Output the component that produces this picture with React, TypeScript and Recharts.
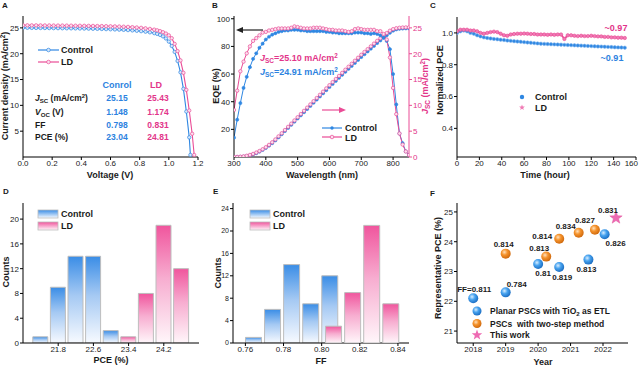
import React from 'react';
import { LineChart, Line, XAxis, YAxis, BarChart, Bar, Cell, ScatterChart, Scatter } from 'recharts';

const FONT = '"Liberation Sans", Arial, Helvetica, sans-serif';
const BLUE = '#2f87e2';
const PINK = '#ea4c96';
const TBLUE = '#2c82e0';
const TPINK = '#e2358a';
const INK = '#1a1a1a';

// ---------- Panel A: J-V ----------
const jvControlV = [0, 0.03, 0.06, 0.09, 0.12, 0.15, 0.18, 0.21, 0.24, 0.27, 0.3, 0.33, 0.36, 0.39, 0.42, 0.45, 0.48, 0.51, 0.54, 0.57, 0.6, 0.63, 0.66, 0.69, 0.72, 0.75, 0.78, 0.81, 0.84, 0.87, 0.9, 0.92, 0.94, 0.96, 0.98, 1.0, 1.02, 1.04, 1.06, 1.08, 1.1, 1.12, 1.14, 1.148];
const jvControlJ = [25.02, 25.01, 25.0, 24.99, 24.98, 24.97, 24.96, 24.95, 24.94, 24.93, 24.92, 24.91, 24.9, 24.88, 24.87, 24.85, 24.83, 24.81, 24.79, 24.76, 24.73, 24.7, 24.66, 24.62, 24.57, 24.51, 24.44, 24.36, 24.26, 24.14, 23.98, 23.84, 23.64, 23.36, 22.95, 22.35, 21.5, 20.35, 18.6, 16.4, 13.2, 8.8, 3.8, 0.4];
const jvLdV = [0, 0.03, 0.06, 0.09, 0.12, 0.15, 0.18, 0.21, 0.24, 0.27, 0.3, 0.33, 0.36, 0.39, 0.42, 0.45, 0.48, 0.51, 0.54, 0.57, 0.6, 0.63, 0.66, 0.69, 0.72, 0.75, 0.78, 0.81, 0.84, 0.87, 0.9, 0.92, 0.94, 0.96, 0.98, 1.0, 1.02, 1.04, 1.06, 1.08, 1.1, 1.12, 1.14, 1.16, 1.174];
const jvLdJ = [25.5, 25.5, 25.49, 25.49, 25.48, 25.47, 25.47, 25.46, 25.45, 25.45, 25.44, 25.43, 25.42, 25.41, 25.4, 25.39, 25.38, 25.36, 25.35, 25.33, 25.31, 25.29, 25.26, 25.23, 25.19, 25.14, 25.08, 25.01, 24.92, 24.8, 24.66, 24.53, 24.37, 24.16, 23.9, 23.55, 23.0, 21.9, 20.5, 18.7, 16.3, 13.0, 9.0, 4.5, 0.4];
const jvXTicks = [0, 0.2, 0.4, 0.6, 0.8, 1.0, 1.2];
const jvYTicks = [5, 10, 15, 20, 25];
const tableControl = ['25.15', '1.148', '0.798', '23.04'];
const tableLd = ['25.43', '1.174', '0.831', '24.81'];

// ---------- Panel B: EQE ----------
const wavelengths = [300, 310, 320, 330, 340, 350, 360, 370, 380, 390, 400, 410, 420, 430, 440, 450, 460, 470, 480, 490, 500, 510, 520, 530, 540, 550, 560, 570, 580, 590, 600, 610, 620, 630, 640, 650, 660, 670, 680, 690, 700, 710, 720, 730, 740, 750, 760, 770, 780, 790, 800, 810, 820, 830, 840, 850];
const eqeControl = [14, 27, 39, 50, 58, 65, 71, 75, 79, 82, 85, 87, 88.5, 89.5, 90.5, 91, 91.5, 91.5, 92, 92, 92, 91.5, 91.5, 91, 91, 91, 91, 91, 91, 90.5, 90.5, 90, 90, 89.5, 89.5, 89.5, 89.5, 89.5, 90, 90, 90, 89.5, 89.5, 89, 89.5, 89, 88, 86.5, 84, 78, 60, 38, 17, 10, 4, 1.5];
const eqeLd = [34, 48, 62, 69, 75, 80, 84, 86, 88, 90, 90.5, 91.5, 92, 92.5, 93, 93, 93, 93, 93.5, 94.5, 94, 93.5, 93, 93, 93, 93.5, 93.5, 93.5, 93, 92.5, 92, 92, 91.5, 91.5, 91.5, 91, 90.5, 91, 92.5, 93, 92.5, 92, 92, 92, 92, 91, 91, 89, 85, 72, 50, 31, 17, 9, 4, 1.5];
const jscIntControl = [0, 0.01, 0.04, 0.09, 0.18, 0.32, 0.5, 0.74, 1.03, 1.36, 1.74, 2.18, 2.67, 3.21, 3.8, 4.4, 5.01, 5.62, 6.23, 6.84, 7.45, 8.06, 8.67, 9.28, 9.89, 10.5, 11.11, 11.72, 12.33, 12.94, 13.55, 14.14, 14.73, 15.32, 15.91, 16.5, 17.07, 17.64, 18.21, 18.78, 19.35, 19.89, 20.43, 20.97, 21.51, 22.05, 22.56, 23.06, 23.55, 24.05, 24.45, 24.7, 24.82, 24.87, 24.9, 24.91];
const jscIntLd = [0, 0.02, 0.06, 0.13, 0.24, 0.4, 0.6, 0.86, 1.16, 1.5, 1.9, 2.35, 2.85, 3.4, 4.0, 4.6, 5.22, 5.84, 6.46, 7.08, 7.7, 8.32, 8.94, 9.56, 10.18, 10.8, 11.42, 12.04, 12.66, 13.28, 13.9, 14.5, 15.1, 15.7, 16.3, 16.9, 17.48, 18.06, 18.64, 19.22, 19.8, 20.34, 20.88, 21.42, 21.96, 22.5, 23.0, 23.5, 24.0, 24.45, 24.75, 24.93, 25.02, 25.07, 25.09, 25.1];
const eqeXTicks = [300, 400, 500, 600, 700, 800];
const eqeYTicks = [20, 40, 60, 80, 100];
const jscYTicks = [0, 5, 10, 15, 20, 25];

// ---------- Panel C: stability ----------
const stabTimes = [0, 3, 6, 9, 12, 15, 18, 21, 24, 27, 30, 33, 36, 39, 42, 45, 48, 51, 54, 57, 60, 63, 66, 69, 72, 75, 78, 81, 84, 87, 90, 93, 96, 99, 102, 105, 108, 111, 114, 117, 120, 123, 126, 129, 132, 135, 138, 141, 144, 147, 150];
const stabControl = [1.0, 1.01, 1.015, 1.01, 1.0, 0.995, 0.985, 0.978, 0.972, 0.968, 0.965, 0.962, 0.96, 0.957, 0.955, 0.952, 0.95, 0.948, 0.946, 0.944, 0.942, 0.94, 0.938, 0.936, 0.934, 0.932, 0.931, 0.93, 0.929, 0.928, 0.927, 0.926, 0.925, 0.924, 0.923, 0.922, 0.921, 0.92, 0.919, 0.918, 0.917, 0.916, 0.915, 0.914, 0.913, 0.912, 0.911, 0.91, 0.909, 0.908, 0.907];
const stabLd = [1.01, 1.02, 1.02, 1.02, 1.015, 1.015, 1.01, 1.0, 0.995, 1.0, 1.005, 1.008, 1.005, 0.995, 0.985, 0.982, 0.99, 0.993, 0.995, 0.995, 0.996, 0.995, 0.993, 0.993, 0.99, 0.99, 0.99, 0.988, 0.99, 0.988, 0.99, 0.99, 0.962, 0.985, 0.985, 0.982, 0.98, 0.982, 0.98, 0.98, 0.982, 0.98, 0.978, 0.978, 0.975, 0.975, 0.972, 0.972, 0.97, 0.97, 0.968];
const stabXTicks = [0, 20, 40, 60, 80, 100, 120, 140, 160];
const stabYTicks = [0.4, 0.6, 0.8, 1.0];

// ---------- Panel D: PCE histogram ----------
const pceControlBins = [21.4, 21.8, 22.2, 22.6, 23.0];
const pceControlCounts = [1, 9, 14, 14, 2];
const pceLdBins = [23.4, 23.8, 24.2, 24.6];
const pceLdCounts = [1, 8, 19, 12];
const pceXTicks = [21.8, 22.6, 23.4, 24.2];
const pceYTicks = [0, 4, 8, 12, 16, 20];

// ---------- Panel E: FF histogram ----------
const ffControlBins = [0.764, 0.774, 0.784, 0.794, 0.804];
const ffControlCounts = [1, 6, 14, 7, 12];
const ffLdBins = [0.806, 0.816, 0.826, 0.836];
const ffLdCounts = [3, 9, 21, 7];
const ffXTicks = [0.76, 0.78, 0.8, 0.82, 0.84];
const ffYTicks = [0, 4, 8, 12, 16, 20, 24];

// ---------- Panel F: literature ----------
const planarYear = [2018, 2019, 2020, 2020.65, 2021.55, 2022.05];
const planarPce = [22.1, 22.3, 23.25, 23.15, 23.4, 24.25];
const planarFF = ['FF=0.811', '0.784', '0.81', '0.819', '0.813', '0.826'];
const twoStepYear = [2019, 2020.25, 2020.65, 2021.25, 2021.75];
const twoStepPce = [23.6, 23.5, 24.1, 24.3, 24.4];
const twoStepFF = ['0.814', '0.813', '0.814', '0.834', '0.827'];
const thisWorkYear = [2022.4];
const thisWorkPce = [24.8];
const thisWorkFF = ['0.831'];
const litXTicks = [2018, 2019, 2020, 2021, 2022];
const litYTicks = [21, 22, 23, 24, 25];

// label placement (layout only)
const planarLabelOffset = [[1, -9], [11, -8], [5, 9], [3, 10], [-2, 10], [11, 9]];
const twoStepLabelOffset = [[-2, -9], [-7, -8], [-17, -2], [-13, -6], [-10, -9]];
const thisWorkLabelOffset = [[-8, -7]];

// ---------- build rows ----------
const jvControl = jvControlV.map((v, i) => ({ v, j: jvControlJ[i] }));
const jvLd = jvLdV.map((v, i) => ({ v, j: jvLdJ[i] }));
const eqeRows = wavelengths.map((w, i) => ({ w, ec: eqeControl[i], el: eqeLd[i], jc: jscIntControl[i], jl: jscIntLd[i] }));
const stabRows = stabTimes.map((t, i) => ({ t, c: stabControl[i], l: stabLd[i] }));
const pceRows = [
  ...pceControlBins.map((x, i) => ({ x, n: pceControlCounts[i], g: 'c' })),
  ...pceLdBins.map((x, i) => ({ x, n: pceLdCounts[i], g: 'l' })),
];
const ffControlRows = ffControlBins.map((x, i) => ({ x, n: ffControlCounts[i] }));
const ffLdRows = ffLdBins.map((x, i) => ({ x, n: ffLdCounts[i] }));
const planarRows = planarYear.map((year, i) => ({ year, pce: planarPce[i], ff: planarFF[i], k: i }));
const twoStepRows = twoStepYear.map((year, i) => ({ year, pce: twoStepPce[i], ff: twoStepFF[i], k: i }));
const thisWorkRows = thisWorkYear.map((year, i) => ({ year, pce: thisWorkPce[i], ff: thisWorkFF[i], k: i }));

const tick = { fontSize: 8, fill: INK, fontFamily: FONT };

function T({ x, y, children, size = 9, color = INK, weight = 700, align = 'center', rot = false }: any) {
  const tx = align === 'left' ? '0%' : align === 'right' ? '-100%' : '-50%';
  return (
    <div
      style={{
        position: 'absolute', left: x, top: y,
        transform: `translate(${tx}, -50%)` + (rot ? ' rotate(-90deg)' : ''),
        fontSize: size, color, fontWeight: weight, fontFamily: FONT, whiteSpace: 'nowrap', lineHeight: 1,
      }}
    >
      {children}
    </div>
  );
}
const Sub = ({ children }: any) => <span style={{ fontSize: '0.72em', position: 'relative', top: '0.3em' }}>{children}</span>;
const Sup = ({ children }: any) => <span style={{ fontSize: '0.7em', position: 'relative', top: '-0.45em' }}>{children}</span>;
const Jsc = () => (<><i>J</i><Sub>SC</Sub></>);

const frameTop = (
  <XAxis xAxisId="top" orientation="top" type="number" domain={[0, 1]} height={0} tick={false} tickLine={false} axisLine={{ stroke: '#000' }} />
);
const frameRight = (
  <YAxis yAxisId="rf" orientation="right" type="number" domain={[0, 1]} width={0} tick={false} tickLine={false} axisLine={{ stroke: '#000' }} />
);

function starPoints(cx: number, cy: number, ro: number, ri: number) {
  const pts: string[] = [];
  for (let k = 0; k < 10; k++) {
    const r = k % 2 === 0 ? ro : ri;
    const a = -Math.PI / 2 + (k * Math.PI) / 5;
    pts.push(`${cx + r * Math.cos(a)},${cy + r * Math.sin(a)}`);
  }
  return pts.join(' ');
}

function makeShape(kind: string, offsets: number[][]) {
  return (p: any) => {
    const row = p.payload ?? p;
    const off = offsets[row.k] || [0, -8];
    const { cx, cy } = p;
    return (
      <g>
        {kind === 'star' ? (
          <polygon points={starPoints(cx, cy, 6.5, 2.7)} fill="#ee6ab3" stroke="#e0579f" strokeWidth={0.5} />
        ) : (
          <circle cx={cx} cy={cy} r={5} fill={kind === 'blue' ? 'url(#fSphBlue)' : 'url(#fSphOrange)'} />
        )}
        <text x={cx + off[0]} y={cy + off[1]} textAnchor="middle" dominantBaseline="central" fontSize={8} fontWeight={700} fontFamily={FONT} fill={INK}>
          {row.ff}
        </text>
      </g>
    );
  };
}

const stabTick = (p: any) => {
  const v = p.payload.value;
  const last = v === 160;
  return (
    <text x={last ? p.x + 2 : p.x} y={p.y} dy="0.71em" textAnchor={last ? 'end' : 'middle'} fontSize={8} fill={INK} fontFamily={FONT}>
      {v}
    </text>
  );
};

const Abs = ({ left, top, children }: any) => (
  <div style={{ position: 'absolute', left, top }}>{children}</div>
);

const blueStops = (
  <>
    <stop offset="0" stopColor="#3a8de6" />
    <stop offset="0.45" stopColor="#a5c9f3" />
    <stop offset="1" stopColor="#f7faff" />
  </>
);
const pinkStops = (
  <>
    <stop offset="0" stopColor="#f0559d" />
    <stop offset="0.45" stopColor="#f7add0" />
    <stop offset="1" stopColor="#fff6fa" />
  </>
);

export default function App() {
  return (
    <div style={{ position: 'absolute', left: 0, top: 0, width: 639, height: 366, background: '#fff', fontFamily: FONT, overflow: 'hidden' }}>
      {/* Panel A */}
      <Abs left={0} top={0}>
        <LineChart width={210} height={185} margin={{ top: 16, left: 3, right: 12, bottom: 8 }}>
          <XAxis dataKey="v" type="number" domain={[0, 1.2]} ticks={jvXTicks} allowDataOverflow interval={0}
            tickFormatter={(v: number) => v.toFixed(1)} tick={tick} tickSize={3} tickMargin={0} height={20} stroke="#000" />
          <YAxis type="number" domain={[0, 27.3]} ticks={jvYTicks} allowDataOverflow interval={0}
            tick={tick} tickSize={3} tickMargin={1} width={20} stroke="#000" />
          {frameTop}
          {frameRight}
          <Line data={jvControl} dataKey="j" stroke={BLUE} strokeWidth={1.1} dot={{ r: 1.7, fill: '#d7e8fb', stroke: BLUE, strokeWidth: 0.7 }} isAnimationActive={false} />
          <Line data={jvLd} dataKey="j" stroke={PINK} strokeWidth={1.1} dot={{ r: 1.7, fill: '#fbe0ee', stroke: PINK, strokeWidth: 0.7 }} isAnimationActive={false} />
        </LineChart>
      </Abs>

      {/* Panel B */}
      <Abs left={210} top={0}>
        <LineChart width={220} height={185} data={eqeRows} margin={{ top: 16, left: 4, right: 5, bottom: 8 }}>
          <XAxis dataKey="w" type="number" domain={[300, 850]} ticks={eqeXTicks} allowDataOverflow interval={0}
            tick={tick} tickSize={3} tickMargin={0} height={20} stroke="#000" />
          <YAxis yAxisId="eqe" type="number" domain={[0, 102]} ticks={eqeYTicks} allowDataOverflow interval={0}
            tick={tick} tickSize={3} tickMargin={1} width={20} stroke="#000" />
          <YAxis yAxisId="jsc" orientation="right" type="number" domain={[0, 27.3]} ticks={jscYTicks} allowDataOverflow interval={0}
            tick={{ ...tick, fill: TPINK }} tickSize={3} tickMargin={1} width={16} stroke={PINK} axisLine={{ stroke: PINK }} tickLine={{ stroke: PINK }} />
          {frameTop}
          <Line yAxisId="jsc" dataKey="jc" stroke={BLUE} strokeWidth={1} dot={{ r: 1.6, fill: BLUE, stroke: BLUE, strokeWidth: 0.5 }} isAnimationActive={false} />
          <Line yAxisId="jsc" dataKey="jl" stroke={PINK} strokeWidth={1} dot={{ r: 1.7, fill: '#fbe0ee', stroke: PINK, strokeWidth: 0.7 }} isAnimationActive={false} />
          <Line yAxisId="eqe" dataKey="ec" stroke={BLUE} strokeWidth={1} dot={{ r: 1.6, fill: BLUE, stroke: BLUE, strokeWidth: 0.5 }} isAnimationActive={false} />
          <Line yAxisId="eqe" dataKey="el" stroke={PINK} strokeWidth={1} dot={{ r: 1.7, fill: '#fbe0ee', stroke: PINK, strokeWidth: 0.7 }} isAnimationActive={false} />
        </LineChart>
      </Abs>

      {/* Panel C */}
      <Abs left={430} top={0}>
        <LineChart width={209} height={185} data={stabRows} margin={{ top: 17, left: 7, right: 3, bottom: 8 }}>
          <XAxis dataKey="t" type="number" domain={[0, 160]} ticks={stabXTicks} allowDataOverflow interval={0}
            tick={stabTick} tickSize={3} tickMargin={0} height={20} stroke="#000" />
          <YAxis type="number" domain={[0.22, 1.1]} ticks={stabYTicks} allowDataOverflow interval={0}
            tickFormatter={(v: number) => v.toFixed(1)} tick={tick} tickSize={3} tickMargin={1} width={20} stroke="#000" />
          {frameTop}
          {frameRight}
          <Line dataKey="c" stroke={BLUE} strokeWidth={1.8} dot={{ r: 1.7, fill: BLUE, stroke: '#7fb6ef', strokeWidth: 0.6 }} isAnimationActive={false} />
          <Line dataKey="l" stroke={PINK} strokeWidth={1.8} dot={{ r: 1.7, fill: '#f07ab4', stroke: PINK, strokeWidth: 0.6 }} isAnimationActive={false} />
        </LineChart>
      </Abs>

      {/* Panel D */}
      <Abs left={0} top={185}>
        <BarChart width={210} height={181} data={pceRows} margin={{ top: 18, left: 3, right: 11, bottom: 3 }}>
          <defs>
            <linearGradient id="dBlue" x1="0" y1="0" x2="0" y2="1">{blueStops}</linearGradient>
            <linearGradient id="dPink" x1="0" y1="0" x2="0" y2="1">{pinkStops}</linearGradient>
          </defs>
          <XAxis dataKey="x" type="number" domain={[21.0, 25.0]} ticks={pceXTicks} allowDataOverflow interval={0}
            tickFormatter={(v: number) => v.toFixed(1)} tick={tick} tickSize={3} tickMargin={0} height={20} stroke="#000" />
          <YAxis type="number" domain={[0, 22.6]} ticks={pceYTicks} allowDataOverflow interval={0}
            tick={tick} tickSize={3} tickMargin={1} width={20} stroke="#000" />
          {frameTop}
          {frameRight}
          <Bar dataKey="n" barSize={15} stroke="#bdbdbd" strokeWidth={1} isAnimationActive={false}>
            {pceRows.map((r, i) => (
              <Cell key={i} fill={r.g === 'c' ? 'url(#dBlue)' : 'url(#dPink)'} />
            ))}
          </Bar>
        </BarChart>
      </Abs>

      {/* Panel E: control layer (with axes) */}
      <Abs left={210} top={185}>
        <BarChart width={220} height={181} data={ffControlRows} margin={{ top: 18, left: 3, right: 21, bottom: 3 }}>
          <defs>
            <linearGradient id="eBlue" x1="0" y1="0" x2="0" y2="1">{blueStops}</linearGradient>
          </defs>
          <XAxis dataKey="x" type="number" domain={[0.7535, 0.8458]} ticks={ffXTicks} allowDataOverflow interval={0}
            tickFormatter={(v: number) => v.toFixed(2)} tick={tick} tickSize={3} tickMargin={0} height={20} stroke="#000" />
          <YAxis type="number" domain={[0, 25]} ticks={ffYTicks} allowDataOverflow interval={0}
            tick={{ ...tick, fontSize: 7 }} tickSize={3} tickMargin={1} width={20} stroke="#000" />
          {frameTop}
          {frameRight}
          <Bar dataKey="n" barSize={16} fill="url(#eBlue)" stroke="#bdbdbd" strokeWidth={1} isAnimationActive={false} />
        </BarChart>
      </Abs>
      {/* Panel E: LD layer (same scales, hidden axis marks) */}
      <Abs left={210} top={185}>
        <BarChart width={220} height={181} data={ffLdRows} margin={{ top: 18, left: 3, right: 21, bottom: 3 }}>
          <defs>
            <linearGradient id="ePink" x1="0" y1="0" x2="0" y2="1">{pinkStops}</linearGradient>
          </defs>
          <XAxis dataKey="x" type="number" domain={[0.7535, 0.8458]} ticks={ffXTicks} allowDataOverflow interval={0}
            tick={false} tickLine={false} axisLine={false} height={20} />
          <YAxis type="number" domain={[0, 25]} ticks={ffYTicks} allowDataOverflow interval={0}
            tick={false} tickLine={false} axisLine={false} width={20} />
          <Bar dataKey="n" barSize={16} fill="url(#ePink)" stroke="#bdbdbd" strokeWidth={1} isAnimationActive={false} />
        </BarChart>
      </Abs>

      {/* Panel F */}
      <Abs left={430} top={185}>
        <ScatterChart width={209} height={181} margin={{ top: 18, left: 7, right: 11, bottom: 3 }}>
          <defs>
            <radialGradient id="fSphBlue" cx="0.38" cy="0.35" r="0.65">
              <stop offset="0" stopColor="#d9eeff" />
              <stop offset="0.45" stopColor="#48a3ef" />
              <stop offset="1" stopColor="#1c6fc4" />
            </radialGradient>
            <radialGradient id="fSphOrange" cx="0.38" cy="0.35" r="0.65">
              <stop offset="0" stopColor="#ffe1bd" />
              <stop offset="0.45" stopColor="#f5932c" />
              <stop offset="1" stopColor="#d06a0e" />
            </radialGradient>
          </defs>
          <XAxis dataKey="year" type="number" domain={[2017.5, 2022.77]} ticks={litXTicks} allowDataOverflow interval={0}
            tick={tick} tickSize={3} tickMargin={0} height={20} stroke="#000" />
          <YAxis dataKey="pce" type="number" domain={[20.6, 25.3]} ticks={litYTicks} allowDataOverflow interval={0}
            tick={tick} tickSize={3} tickMargin={1} width={20} stroke="#000" />
          {frameTop}
          {frameRight}
          <Scatter data={planarRows} shape={makeShape('blue', planarLabelOffset)} isAnimationActive={false} />
          <Scatter data={twoStepRows} shape={makeShape('orange', twoStepLabelOffset)} isAnimationActive={false} />
          <Scatter data={thisWorkRows} shape={makeShape('star', thisWorkLabelOffset)} isAnimationActive={false} />
        </ScatterChart>
      </Abs>

      {/* legend / annotation graphics */}
      <svg width={639} height={366} style={{ position: 'absolute', left: 0, top: 0, pointerEvents: 'none' }}>
        <defs>
          <linearGradient id="lgBlue" x1="0" y1="0" x2="0" y2="1">
            <stop offset="0" stopColor="#3a8de6" />
            <stop offset="1" stopColor="#f7faff" />
          </linearGradient>
          <linearGradient id="lgPink" x1="0" y1="0" x2="0" y2="1">
            <stop offset="0" stopColor="#f0559d" />
            <stop offset="1" stopColor="#fff6fa" />
          </linearGradient>
          <radialGradient id="lgSphBlue" cx="0.38" cy="0.35" r="0.65">
            <stop offset="0" stopColor="#d9eeff" />
            <stop offset="0.45" stopColor="#48a3ef" />
            <stop offset="1" stopColor="#1c6fc4" />
          </radialGradient>
          <radialGradient id="lgSphOrange" cx="0.38" cy="0.35" r="0.65">
            <stop offset="0" stopColor="#ffe1bd" />
            <stop offset="0.45" stopColor="#f5932c" />
            <stop offset="1" stopColor="#d06a0e" />
          </radialGradient>
        </defs>
        {/* A legend */}
        <line x1={38} y1={50} x2={59} y2={50} stroke={BLUE} strokeWidth={1.2} />
        <circle cx={48.5} cy={50} r={1.8} fill="#d7e8fb" stroke={BLUE} strokeWidth={0.7} />
        <line x1={38} y1={62} x2={59} y2={62} stroke={PINK} strokeWidth={1.2} />
        <circle cx={48.5} cy={62} r={1.8} fill="#fbe0ee" stroke={PINK} strokeWidth={0.7} />
        {/* B arrows */}
        <line x1={241} y1={30} x2={263} y2={30} stroke="#222" strokeWidth={1.2} />
        <polygon points="236,30 243,27 243,33" fill="#222" />
        <line x1={322} y1={110} x2={340} y2={110} stroke={PINK} strokeWidth={1.2} />
        <polygon points="346,110 339,107 339,113" fill={PINK} />
        {/* B legend */}
        <line x1={322} y1={128} x2={342} y2={128} stroke={BLUE} strokeWidth={1.2} />
        <circle cx={332} cy={128} r={1.7} fill={BLUE} />
        <line x1={322} y1={137} x2={342} y2={137} stroke={PINK} strokeWidth={1.2} />
        <circle cx={332} cy={137} r={1.8} fill="#fbe0ee" stroke={PINK} strokeWidth={0.7} />
        {/* C legend */}
        <circle cx={522} cy={97} r={2.2} fill={BLUE} />
        <polygon points={starPoints(522, 107.5, 3, 1.3)} fill="#f07ab4" />
        {/* D legend */}
        <rect x={38} y={210} width={20} height={8} fill="url(#lgBlue)" stroke="#bdbdbd" strokeWidth={0.8} />
        <rect x={38} y={222} width={20} height={8} fill="url(#lgPink)" stroke="#bdbdbd" strokeWidth={0.8} />
        {/* E legend */}
        <rect x={250} y={210} width={20} height={8} fill="url(#lgBlue)" stroke="#bdbdbd" strokeWidth={0.8} />
        <rect x={250} y={222} width={20} height={8} fill="url(#lgPink)" stroke="#bdbdbd" strokeWidth={0.8} />
        {/* F legend */}
        <circle cx={477} cy={311} r={4.5} fill="url(#lgSphBlue)" />
        <circle cx={477} cy={323.5} r={4.5} fill="url(#lgSphOrange)" />
        <polygon points={starPoints(477, 335, 5.5, 2.3)} fill="#ee6ab3" />
      </svg>

      {/* panel letters */}
      <T x={2} y={6} size={8} align="left">A</T>
      <T x={212} y={6} size={8} align="left">B</T>
      <T x={430} y={6} size={8} align="left">C</T>
      <T x={3} y={192} size={8} align="left">D</T>
      <T x={213} y={192} size={8} align="left">E</T>
      <T x={430} y={194} size={8} align="left">F</T>

      {/* A texts */}
      <T x={110} y={175}>Voltage (V)</T>
      <T x={5} y={86} rot>Current density (mA/cm<Sup>2</Sup>)</T>
      <T x={61} y={50} align="left">Control</T>
      <T x={61} y={62} align="left">LD</T>
      <T x={117} y={85} color={TBLUE}>Conrol</T>
      <T x={156} y={85} color={TPINK}>LD</T>
      <T x={35} y={98} align="left" size={8.5}><Jsc /> (mA/cm<Sup>2</Sup>)</T>
      <T x={35} y={112} align="left" size={8.5}><i>V</i><Sub>OC</Sub> (V)</T>
      <T x={35} y={124.5} align="left" size={8.5}>FF</T>
      <T x={35} y={137} align="left" size={8.5}>PCE (%)</T>
      {tableControl.map((s, i) => (
        <T key={'tc' + i} x={117} y={[98, 112, 124.5, 137][i]} color={TBLUE} size={8.5}>{s}</T>
      ))}
      {tableLd.map((s, i) => (
        <T key={'tl' + i} x={158} y={[98, 112, 124.5, 137][i]} color={TPINK} size={8.5}>{s}</T>
      ))}

      {/* B texts */}
      <T x={322} y={175}>Wavelength (nm)</T>
      <T x={216} y={86} rot>EQE (%)</T>
      <T x={425} y={86} rot color={TPINK}><Jsc /> (mA/cm<Sup>2</Sup>)</T>
      <T x={260} y={58} align="left" color={TPINK}><Jsc />=25.10 mA/cm<Sup>2</Sup></T>
      <T x={260} y={72} align="left" color={TBLUE}><Jsc />=24.91 mA/cm<Sup>2</Sup></T>
      <T x={345} y={128} align="left">Control</T>
      <T x={345} y={137.5} align="left">LD</T>

      {/* C texts */}
      <T x={545} y={175}>Time (hour)</T>
      <T x={440} y={80} rot>Normalized PCE</T>
      <T x={616} y={28} color={TPINK}>~0.97</T>
      <T x={612} y={58} color={TBLUE}>~0.91</T>
      <T x={535} y={97} align="left">Control</T>
      <T x={535} y={108} align="left">LD</T>

      {/* D texts */}
      <T x={111} y={360}>PCE (%)</T>
      <T x={6} y={272} rot>Counts</T>
      <T x={61} y={214} align="left">Control</T>
      <T x={61} y={226} align="left">LD</T>

      {/* E texts */}
      <T x={321} y={361}>FF</T>
      <T x={218} y={273} rot>Counts</T>
      <T x={273} y={214} align="left">Control</T>
      <T x={273} y={226} align="left">LD</T>

      {/* F texts */}
      <T x={543} y={362}>Year</T>
      <T x={438} y={268} rot>Representative PCE (%)</T>
      <T x={490} y={311} align="left" size={8.5}>Planar PSCs with TiO<Sub>2</Sub> as ETL</T>
      <T x={490} y={323.5} align="left" size={8.5}>PSCs&nbsp; with two-step method</T>
      <T x={490} y={335} align="left" size={8.5}>This work</T>
    </div>
  );
}
